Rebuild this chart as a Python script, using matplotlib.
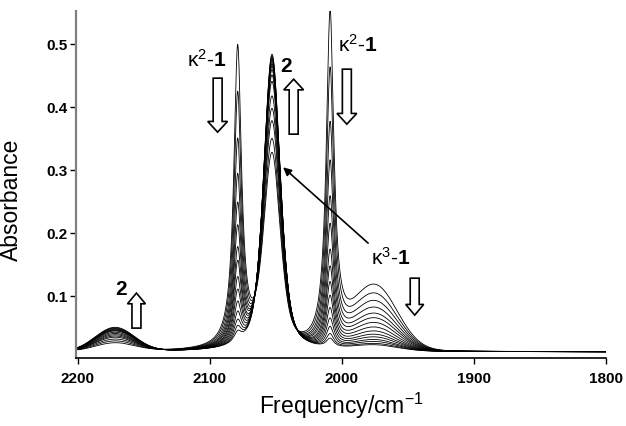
import matplotlib
matplotlib.use("Agg")
import matplotlib.pyplot as plt
import numpy as np
from matplotlib.patches import FancyArrow

plt.rcParams["font.family"] = ["Liberation Sans", "DejaVu Sans"]
plt.rcParams["mathtext.fontset"] = "custom"
plt.rcParams["mathtext.rm"] = "Liberation Sans"
plt.rcParams["mathtext.bf"] = "Liberation Sans:bold"
plt.rcParams["mathtext.it"] = "Liberation Sans:italic"
plt.rcParams["mathtext.default"] = "regular"

# band centres (cm-1)
k2_high_centre = 2079.0
k2_low_centre = 2009.0
band2_centre = 2053.0
k3_centre = 1975.0
band2_weak_centre = 2172.0

# band amplitudes for each of the 15 spectra (absorbance above baseline)
k2_high_amp = [0.475, 0.40, 0.325, 0.268, 0.222, 0.185, 0.150, 0.128,
               0.102, 0.082, 0.063, 0.047, 0.034, 0.024, 0.016]
k2_low_amp = [0.524, 0.435, 0.350, 0.290, 0.234, 0.191, 0.151, 0.125,
              0.101, 0.080, 0.061, 0.045, 0.032, 0.021, 0.014]
band2_amp = [0.305, 0.329, 0.359, 0.380, 0.401, 0.425, 0.436, 0.445,
             0.451, 0.455, 0.459, 0.463, 0.466, 0.469, 0.472]
k3_amp = [0.100, 0.087, 0.076, 0.066, 0.057, 0.050, 0.043, 0.036,
          0.030, 0.025, 0.021, 0.017, 0.014, 0.011, 0.009]
band2_weak_amp = [0.013, 0.016, 0.019, 0.022, 0.024, 0.026, 0.028, 0.030,
                  0.032, 0.033, 0.034, 0.035, 0.036, 0.037, 0.038]
baseline = 0.012

x_ticks = [2200, 2100, 2000, 1900, 1800]
y_ticks = [0.1, 0.2, 0.3, 0.4, 0.5]


def lorentz(x, centre, fwhm):
    return 1.0 / (1.0 + (2.0 * (x - centre) / fwhm) ** 2)


def gauss(x, centre, fwhm):
    return np.exp(-4.0 * np.log(2.0) * ((x - centre) / fwhm) ** 2)


def spectrum(x, i):
    y = baseline
    y = y + k2_high_amp[i] * lorentz(x, k2_high_centre, 7.0)
    y = y + k2_low_amp[i] * lorentz(x, k2_low_centre, 7.0)
    y = y + band2_amp[i] * (0.5 * lorentz(x, band2_centre, 15.0)
                            + 0.5 * gauss(x, band2_centre, 15.0))
    y = y + k3_amp[i] * gauss(x, k3_centre, 40.0)
    y = y + band2_weak_amp[i] * gauss(x, band2_weak_centre, 35.0)
    return y


def hollow_arrow(ax, x, y, dy, width=6.8, head_width=15.0, head_length=0.017):
    ax.add_patch(
        FancyArrow(
            x, y, 0, dy,
            width=width,
            head_width=head_width,
            head_length=head_length,
            length_includes_head=True,
            facecolor="white",
            edgecolor="black",
            linewidth=1.2,
            zorder=5,
        )
    )


fig = plt.figure(figsize=(6.26, 4.26), dpi=100)
ax = fig.add_axes([0.1214, 0.160, 0.8466, 0.814])

wavenumber = np.linspace(1800, 2200, 1601)
for i in range(len(k2_low_amp)):
    ax.plot(wavenumber, spectrum(wavenumber, i), color="black", lw=0.6)

ax.set_xlim(2201.5, 1800)
ax.set_ylim(0.0025, 0.553)
ax.set_xticks(x_ticks)
ax.set_yticks(y_ticks)
ax.set_xticklabels([str(t) for t in x_ticks], fontsize=11, fontweight="bold")
ax.set_yticklabels([f"{t:.1f}" for t in y_ticks], fontsize=11,
                   fontweight="bold")
ax.tick_params(axis="x", direction="out", length=4, width=1, pad=6)
ax.tick_params(axis="y", direction="out", length=4, width=1, pad=2)

for side in ["top", "right"]:
    ax.spines[side].set_visible(False)
ax.spines["left"].set_color("#808080")
ax.spines["left"].set_linewidth(1.6)
ax.spines["bottom"].set_linewidth(1.2)

ax.set_xlabel(r"Frequency/cm$^{-1}$", fontsize=16.5, labelpad=4)
ax.set_ylabel("Absorbance", fontsize=16.5)
ax.yaxis.set_label_coords(-0.10, 0.455)

# labels and arrows
kappa2 = r"$\mathrm{\kappa}^{2}$-$\mathbf{1}$"
kappa3 = r"$\mathrm{\kappa}^{3}$-$\mathbf{1}$"
ax.text(2117.2, 0.464, kappa2, fontsize=15, ha="left", va="baseline")
ax.text(2002.9, 0.488, kappa2, fontsize=15, ha="left", va="baseline")
ax.text(1977.9, 0.150, kappa3, fontsize=15, ha="left", va="baseline")
ax.text(2046.8, 0.456, "2", fontsize=15, fontweight="bold",
        ha="left", va="baseline")
ax.text(2171.8, 0.102, "2", fontsize=15, fontweight="bold",
        ha="left", va="baseline")

hollow_arrow(ax, 2094.2, 0.4465, -0.0857)
hollow_arrow(ax, 2036.6, 0.3576, 0.0873)
hollow_arrow(ax, 1996.3, 0.4608, -0.0873)
hollow_arrow(ax, 1944.9, 0.129, -0.0587, head_width=13.6)
hollow_arrow(ax, 2155.7, 0.0497, 0.0556, head_width=13.6)

ax.annotate(
    "",
    xy=(2044.6, 0.305),
    xytext=(1980.2, 0.1846),
    arrowprops=dict(arrowstyle="-|>", color="black", lw=1.2,
                    mutation_scale=12, shrinkA=0, shrinkB=0),
)

fig.savefig("out.png", dpi=100)
